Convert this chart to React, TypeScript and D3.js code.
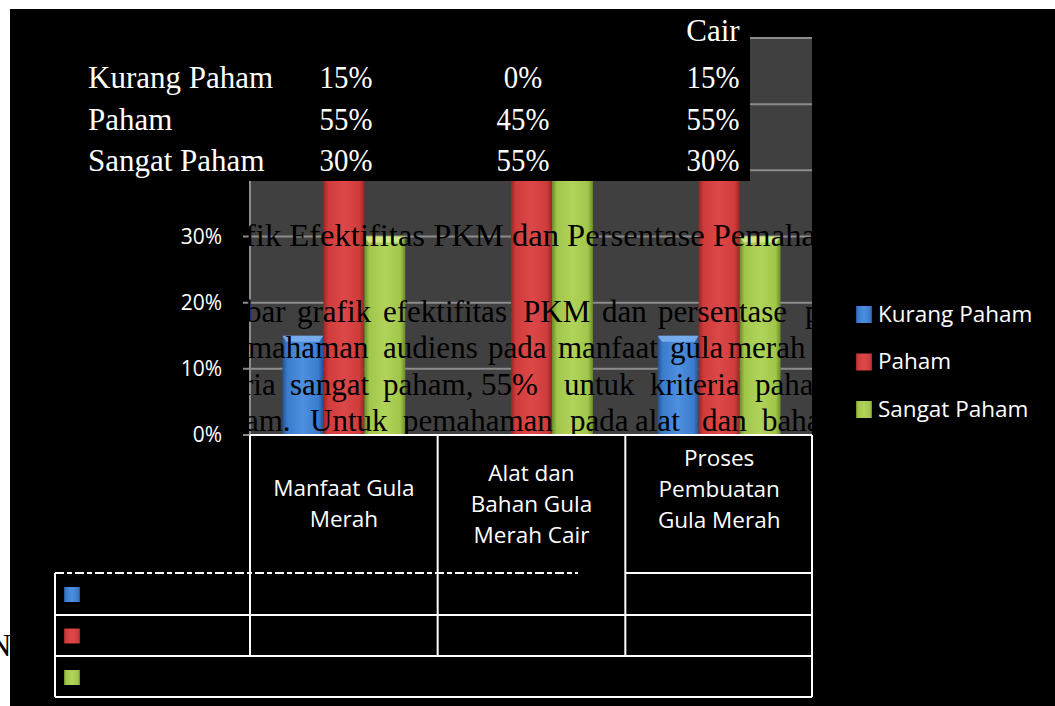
import React from "react";
import * as d3 from "d3";

const categories = ["Manfaat Gula Merah", "Alat dan Bahan Gula Merah Cair", "Proses Pembuatan Gula Merah"];
const categoryLines = [["Manfaat Gula", "Merah"], ["Alat dan", "Bahan Gula", "Merah Cair"], ["Proses", "Pembuatan", "Gula Merah"]];
const categoryLabelShift = [0, 0, -15];
const series = ["Kurang Paham", "Paham", "Sangat Paham"];
const kurangPaham = [0.15, 0, 0.15];
const paham = [0.55, 0.45, 0.55];
const sangatPaham = [0.3, 0.55, 0.3];
const seriesValues = [kurangPaham, paham, sangatPaham];
const yTicks = [0, 0.1, 0.2, 0.3, 0.4, 0.5, 0.6];
const overlayHeaderTail = "Cair";

const seriesColors = [
  { dark: "#24518f", mid: "#3b7bcc", light: "#4d8fe0", cap: "#7fb2f0" },
  { dark: "#972626", mid: "#d03b3b", light: "#dc4848", cap: "#ee8080" },
  { dark: "#6a8a28", mid: "#a0c64a", light: "#b0d45a", cap: "#d6ee8e" },
];

// paragraph fragments peeking through the chart (word, x start)
const paragraphLines: { y: number; size: number; words: [string, number][] }[] = [
  { y: 246, size: 32.6, words: [["fik Efektifitas PKM dan Persentase Pemaha", 245]] },
  { y: 322, size: 31, words: [["bar", 246], ["grafik", 297], ["efektifitas", 383], ["PKM", 523], ["dan", 602], ["persentase", 658], ["p", 805]] },
  { y: 358, size: 31, words: [["mahaman", 248], ["audiens", 383], ["pada", 488], ["manfaat", 558], ["gula", 670], ["merah", 728]] },
  { y: 395, size: 31, words: [["ria", 243], ["sangat", 290], ["paham,", 383], ["55%", 481], ["untuk", 564], ["kriteria", 650], ["paha", 755]] },
  { y: 431, size: 31, words: [["am.", 245], ["Untuk", 310], ["pemahaman", 403], ["pada", 570], ["alat", 635], ["dan", 702], ["baha", 762]] },
];

const W = 1055;
const H = 706;
const plotLeft = 250;
const plotRight = 813;
const plotTop = 38;
const plotBottom = 435;
const overlayBottom = 181;

const SANS = "'Open Sans', 'DejaVu Sans', sans-serif";
const SERIF = "'Liberation Serif', 'Times New Roman', serif";

export default function App() {
  const x = d3.scaleBand<string>().domain(categories).range([plotLeft, plotRight]);
  const xs = d3.scaleBand<string>().domain(series).range([0, x.bandwidth()]).paddingInner(0).paddingOuter(0.79);
  const y = d3.scaleLinear().domain([0, 0.6]).range([plotBottom, plotTop]);
  const pct = d3.format(".0%");

  const tableTop = plotBottom;
  const headerBottom = 573;
  const rowBottoms = [615, 656, 697];
  const leftCol = 55;
  const colEdges = [plotLeft, ...categories.map((c) => (x(c) as number) + x.bandwidth())];

  return (
    <svg width={W} height={H} style={{ position: "absolute", left: 0, top: 0, display: "block" }}>
      <defs>
        {seriesColors.map((c, i) => (
          <linearGradient key={i} id={`bar${i}`} x1="0" x2="1" y1="0" y2="0">
            <stop offset="0" stopColor={c.dark} />
            <stop offset="0.12" stopColor={c.mid} />
            <stop offset="0.5" stopColor={c.light} />
            <stop offset="0.88" stopColor={c.mid} />
            <stop offset="1" stopColor={c.dark} />
          </linearGradient>
        ))}
        <clipPath id="plotClip">
          <rect x={243} y={plotTop} width={plotRight - 243 - 1} height={plotBottom - plotTop} />
        </clipPath>
      </defs>

      <rect x={0} y={0} width={W} height={H} fill="#ffffff" />
      <text x={-11} y={656} fontFamily={SERIF} fontSize={31} fill="#000">N</text>
      <rect x={10} y={9} width={W - 10} height={H - 9} fill="#000000" />

      {/* plot area */}
      <rect x={plotLeft} y={plotTop} width={plotRight - plotLeft - 1} height={plotBottom - plotTop} fill="#404040" />
      {yTicks.map((t) => (
        <line key={t} x1={243} x2={plotRight - 1} y1={y(t)} y2={y(t)} stroke="#8c8c8c" strokeWidth={2} />
      ))}
      <line x1={plotLeft} x2={plotLeft} y1={plotTop} y2={plotBottom} stroke="#8c8c8c" strokeWidth={2} />

      {/* bars */}
      {series.map((s, si) =>
        categories.map((c, ci) => {
          const v = seriesValues[si][ci];
          const bx = (x(c) as number) + (xs(s) as number);
          const bw = xs.bandwidth();
          const top = y(v);
          const h = plotBottom - top;
          if (h <= 0) return null;
          const cap = Math.min(6, h);
          return (
            <g key={`${si}-${ci}`}>
              <rect x={bx} y={top} width={bw} height={h} fill={`url(#bar${si})`} />
              <polygon
                points={`${bx},${top} ${bx + bw},${top} ${bx + bw - 4},${top + cap} ${bx + 4},${top + cap}`}
                fill={seriesColors[si].cap}
                opacity={0.85}
              />
            </g>
          );
        })
      )}

      {/* paragraph text showing through */}
      <g clipPath="url(#plotClip)" fontFamily={SERIF} fill="#000">
        <text x={245} y={246} fontSize={32.6} textAnchor="end">a</text>
        {paragraphLines.map((ln, li) =>
          ln.words.map(([w, wx], wi) => (
            <text key={`${li}-${wi}`} x={wx} y={ln.y} fontSize={ln.size}>{w}</text>
          ))
        )}
      </g>

      {/* y axis labels (upper ones are hidden beneath the pasted table) */}
      {yTicks.filter((t) => y(t) > overlayBottom + 12).map((t) => (
        <text key={t} x={222} y={y(t)} dy="0.35em" textAnchor="end" fontFamily={SANS} fontSize={21} fill="#ffffff">
          {pct(t)}
        </text>
      ))}

      {/* overlaid black table with values */}
      <rect x={10} y={9} width={740} height={overlayBottom - 9} fill="#000000" />
      <g fontFamily={SERIF} fontSize={31} fill="#ffffff">
        <text x={713} y={41} textAnchor="middle">{overlayHeaderTail}</text>
        {series.map((s, si) => {
          const by = 88 + si * 41.5;
          return (
            <g key={s}>
              <text x={88} y={by}>{s}</text>
              {[346, 523, 713].map((cx, ci) => (
                <g key={ci} transform={`translate(${cx},${by}) scale(0.93,1)`}>
                  <text textAnchor="middle">{pct(seriesValues[si][ci])}</text>
                </g>
              ))}
            </g>
          );
        })}
      </g>

      {/* data table */}
      <g stroke="#ffffff" strokeWidth={2} fill="none">
        <line x1={plotLeft} x2={plotRight - 1} y1={tableTop} y2={tableTop} />
        <line x1={leftCol} x2={578} y1={headerBottom} y2={headerBottom} strokeDasharray="9,3,5,3" />
        <line x1={626} x2={plotRight - 1} y1={headerBottom} y2={headerBottom} />
        {rowBottoms.map((rb) => (
          <line key={rb} x1={leftCol} x2={plotRight - 1} y1={rb} y2={rb} />
        ))}
        <line x1={leftCol} x2={leftCol} y1={headerBottom} y2={rowBottoms[2]} />
        {colEdges.slice(0, 3).map((cx) => (
          <line key={cx} x1={cx} x2={cx} y1={tableTop} y2={rowBottoms[1]} />
        ))}
        <line x1={plotRight - 1} x2={plotRight - 1} y1={tableTop} y2={rowBottoms[2]} />
      </g>
      {categories.map((c, ci) => {
        const lines = categoryLines[ci];
        const cx = (x(c) as number) + x.bandwidth() / 2;
        const mid = (tableTop + headerBottom) / 2 + categoryLabelShift[ci];
        const lh = 31;
        return (
          <text key={c} textAnchor="middle" fontFamily={SANS} fontSize={22.5} fill="#ffffff">
            {lines.map((l, li) => (
              <tspan key={li} x={cx} y={mid + (li - (lines.length - 1) / 2) * lh} dy="0.35em">
                {l}
              </tspan>
            ))}
          </text>
        );
      })}
      {series.map((s, si) => {
        const top = headerBottom + 14 + si * 41.5;
        return <rect key={s} x={64} y={top} width={16} height={15} fill={`url(#bar${si})`} />;
      })}

      {/* legend */}
      {series.map((s, si) => {
        const cy = 314 + si * 47.5;
        return (
          <g key={s}>
            <rect x={856} y={cy - 8} width={16} height={17} fill={`url(#bar${si})`} />
            <text x={878} y={cy} dy="0.35em" fontFamily={SANS} fontSize={22.5} fill="#ffffff">
              {s}
            </text>
          </g>
        );
      })}
    </svg>
  );
}
